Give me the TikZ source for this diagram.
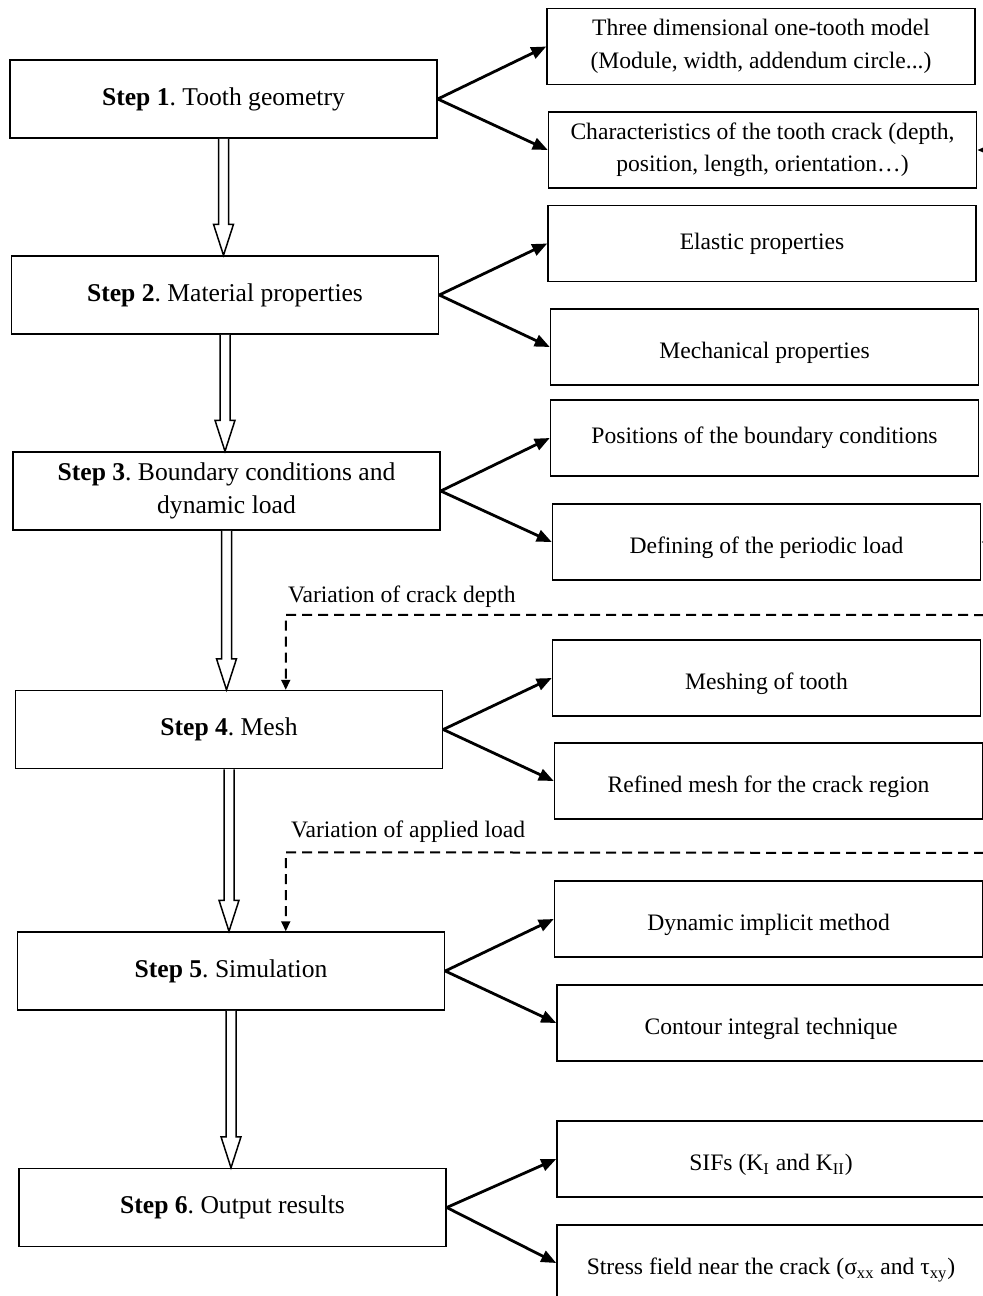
\documentclass[tikz,border=0pt]{standalone}
\usepackage{fontspec}
\setmainfont{Liberation Serif}
\usetikzlibrary{calc, arrows.meta}

\tikzset{
    stepbox/.style = {draw, line width = 0.75pt, minimum width = 213.5pt, minimum height = 39pt, align = center, inner sep = 0pt, font = \fontsize{12.8pt}{16.5pt}\selectfont},
    itembox/.style = {draw, line width = 0.75pt, minimum width = 214pt, minimum height = 38pt, align = center, inner sep = 0pt},
    lowtext/.style = {text height = 14.3pt, text depth = 2.5pt},
    branch/.style = {line width = 1.4pt, -{Triangle[length = 7.5pt, width = 6pt]}},
    feedback/.style = {line width = 1pt, dash pattern = on 5pt off 3pt, -{Triangle[length = 5pt, width = 4.5pt]}},
    hollow/.style = {line width = 0.75pt, fill = white, line join = miter},
}
\newcommand{\hollowdown}[2]{%
    \draw[hollow] let \p1 = (#1.south), \p2 = (#2.north) in
        (\x1 - 2.5pt, \y1) -- (\x1 - 2.5pt, \y2 + 15.5pt) -- (\x1 - 5pt, \y2 + 15.5pt)
        -- (\x1, \y2) -- (\x1 + 5pt, \y2 + 15.5pt) -- (\x1 + 2.5pt, \y2 + 15.5pt) -- (\x1 + 2.5pt, \y1);
}
\frenchspacing

\begin{document}
\begin{tikzpicture}[x = 0.5pt, y = -0.5pt, font = \fontsize{11.8pt}{16.2pt}\selectfont]
    \useasboundingbox (0, 0) rectangle (983, 1296);

    % main steps
    \node[stepbox] (step_1) at (223.5, 99) {\textbf{Step 1}. Tooth geometry};
    \node[stepbox] (step_2) at (225, 295) {\textbf{Step 2}. Material properties};
    \node[stepbox] (step_3) at (226.5, 491) {\textbf{Step 3}. Boundary conditions and\\dynamic load};
    \node[stepbox] (step_4) at (229, 729.5) {\textbf{Step 4}. Mesh};
    \node[stepbox] (step_5) at (231, 971) {\textbf{Step 5}. Simulation};
    \node[stepbox] (step_6) at (232.5, 1207.5) {\textbf{Step 6}. Output results};

    % details of each step
    \node[itembox] (out_1a) at (761, 46.5) {Three dimensional one-tooth model\\(Module, width, addendum circle...)};
    \node[itembox] (out_1b) at (762.5, 150) {Characteristics of the tooth crack (depth,\\position, length, orientation…)};
    \node[itembox] (out_2a) at (762, 243.5) {Elastic properties};
    \node[itembox, lowtext] (out_2b) at (764.5, 347) {Mechanical properties};
    \node[itembox] (out_3a) at (764.5, 438) {Positions of the boundary conditions};
    \node[itembox, lowtext] (out_3b) at (766.5, 542) {Defining of the periodic load};
    \node[itembox, lowtext] (out_4a) at (766.5, 678) {Meshing of tooth};
    \node[itembox, lowtext] (out_4b) at (768.5, 781) {Refined mesh for the crack region};
    \node[itembox, lowtext] (out_5a) at (768.5, 919) {Dynamic implicit method};
    \node[itembox, lowtext] (out_5b) at (771, 1023) {Contour integral technique};
    \node[itembox, lowtext] (out_6a) at (771, 1159) {SIFs (K\textsubscript{I} and K\textsubscript{II})};
    \node[itembox, lowtext] (out_6b) at (771, 1263) {Stress field near the crack (σ\textsubscript{xx} and τ\textsubscript{xy})};

    % branches
    \foreach \s in {1, ..., 6} {
        \draw[branch] (step_\s.east) -- (out_\s a.west);
        \draw[branch] (step_\s.east) -- (out_\s b.west);
    }

    % arrows cut by the page edge
    \coordinate (cut_1) at (995, 150);
    \coordinate (cut_2) at (998, 542);
    \draw[branch] (cut_1) -- (out_1b.east);
    \draw[branch] (cut_2) -- (out_3b.east);

    % flow between steps
    \hollowdown{step_1}{step_2}
    \hollowdown{step_2}{step_3}
    \hollowdown{step_3}{step_4}
    \hollowdown{step_4}{step_5}
    \hollowdown{step_5}{step_6}

    % loops
    \coordinate (turn_1) at ($(step_4.north west) + (271, -75)$);
    \coordinate (loop_1) at (1000, 615);
    \draw[feedback] (loop_1) -- (turn_1) -- (turn_1 |- step_4.north);
    \node[anchor = west, inner sep = 0pt] (label_1) at ($(turn_1) + (2, -18)$) {Variation of crack depth};

    \coordinate (turn_2) at ($(step_5.north west) + (269, -79)$);
    \coordinate (loop_2) at (1000, 853);
    \draw[feedback] (loop_2) -- (turn_2) -- (turn_2 |- step_5.north);
    \node[anchor = west, inner sep = 0pt] (label_2) at ($(turn_2) + (5, -21)$) {Variation of applied load};
\end{tikzpicture}
\end{document}
